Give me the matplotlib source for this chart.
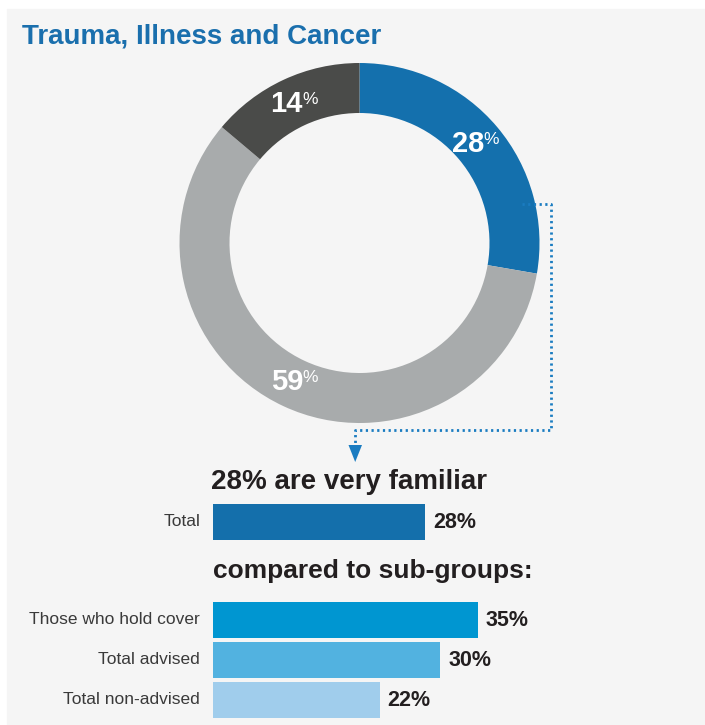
import numpy as np
import matplotlib
matplotlib.use("Agg")
import matplotlib.pyplot as plt
from matplotlib.patches import Rectangle, Polygon

plt.rcParams['font.family'] = ['Liberation Sans', 'DejaVu Sans']

# donut: familiarity with trauma, illness and cancer cover
donut_values = [28, 59, 14]
donut_colors = ['#1470ad', '#a8abac', '#4a4b49']

# bars: share who are very familiar
bar_labels = ['Total', 'Those who hold cover', 'Total advised', 'Total non-advised']
bar_values = [28, 35, 30, 22]
bar_colors = ['#146fab', '#0096d1', '#52b2e0', '#a0cdec']

W, H = 705, 725
fig = plt.figure(figsize=(W / 100, H / 100), dpi=100)
fig.patch.set_facecolor('white')

ax = fig.add_axes([0, 0, 1, 1])
ax.axis('off')


def Y(y):
    # pixel rows from the top -> axes y (upwards)
    return H - y


ax.add_patch(Rectangle((7, 0), W - 7, H - 9, color='#f5f5f5', zorder=0))

cx, cy, r_out, ring = 359.5, 243, 180, 50
wedges, _ = ax.pie(donut_values, colors=donut_colors, startangle=90,
                   counterclock=False, radius=r_out, center=(cx, Y(cy)),
                   wedgeprops=dict(width=ring, linewidth=0))
ax.set_xlim(0, W)
ax.set_ylim(0, H)

# percentage labels in the ring, with a small raised % sign
total = sum(donut_values)
start = 90.0
for v in donut_values:
    sweep = v / total * 360
    mid = np.deg2rad(start - sweep / 2)
    start -= sweep
    rl = r_out - ring / 2 - 2
    lx = cx + rl * np.cos(mid)
    ly = Y(cy) + rl * np.sin(mid)
    ax.text(lx + 8, ly, f'{v}', ha='right', va='center', color='white',
            fontsize=21, fontweight='bold')
    ax.text(lx + 7, ly + 12, '%', ha='left', va='top', color='white',
            fontsize=12.5)

# dotted connector from the blue segment down to the bars
conn = '#1a7cc1'
ax.plot([522, 551, 551, 355, 355], [Y(204), Y(204), Y(430), Y(430), Y(446)],
        color=conn, lw=2, linestyle=(0, (0.8, 1.25)), dash_capstyle='butt')
ax.add_patch(Polygon([(348.5, Y(445)), (362, Y(445)), (355.2, Y(462))],
                     closed=True, color=conn, lw=0))

ax.text(22, Y(36), 'Trauma, Illness and Cancer', ha='left', va='center',
        color='#1a6fad', fontsize=20, fontweight='bold')
ax.text(211, Y(482), '28% are very familiar', ha='left', va='center',
        color='#231f20', fontsize=20, fontweight='bold')
ax.text(213, Y(571), 'compared to sub-groups:', ha='left', va='center',
        color='#231f20', fontsize=19, fontweight='bold')

# horizontal bars
px_per_pct = 7.57
bax = fig.add_axes([213 / W, 0, 50 * px_per_pct / W, 1])
bax.set_xlim(0, 50)
bax.set_ylim(H, 0)
bax.axis('off')
bar_y = [522, 620, 660, 700]
bax.barh(bar_y, bar_values, height=36, color=bar_colors, linewidth=0)
for name, v, y in zip(bar_labels, bar_values, bar_y):
    bax.annotate(name, (0, y), xytext=(-13, 0), textcoords='offset pixels',
                 ha='right', va='center', color='#3a3a3a', fontsize=12.5)
    bax.annotate(f'{v}%', (v, y), xytext=(8, 0), textcoords='offset pixels',
                 ha='left', va='center', color='#231f20', fontsize=15.5,
                 fontweight='bold')

fig.savefig('out.png', dpi=100)
